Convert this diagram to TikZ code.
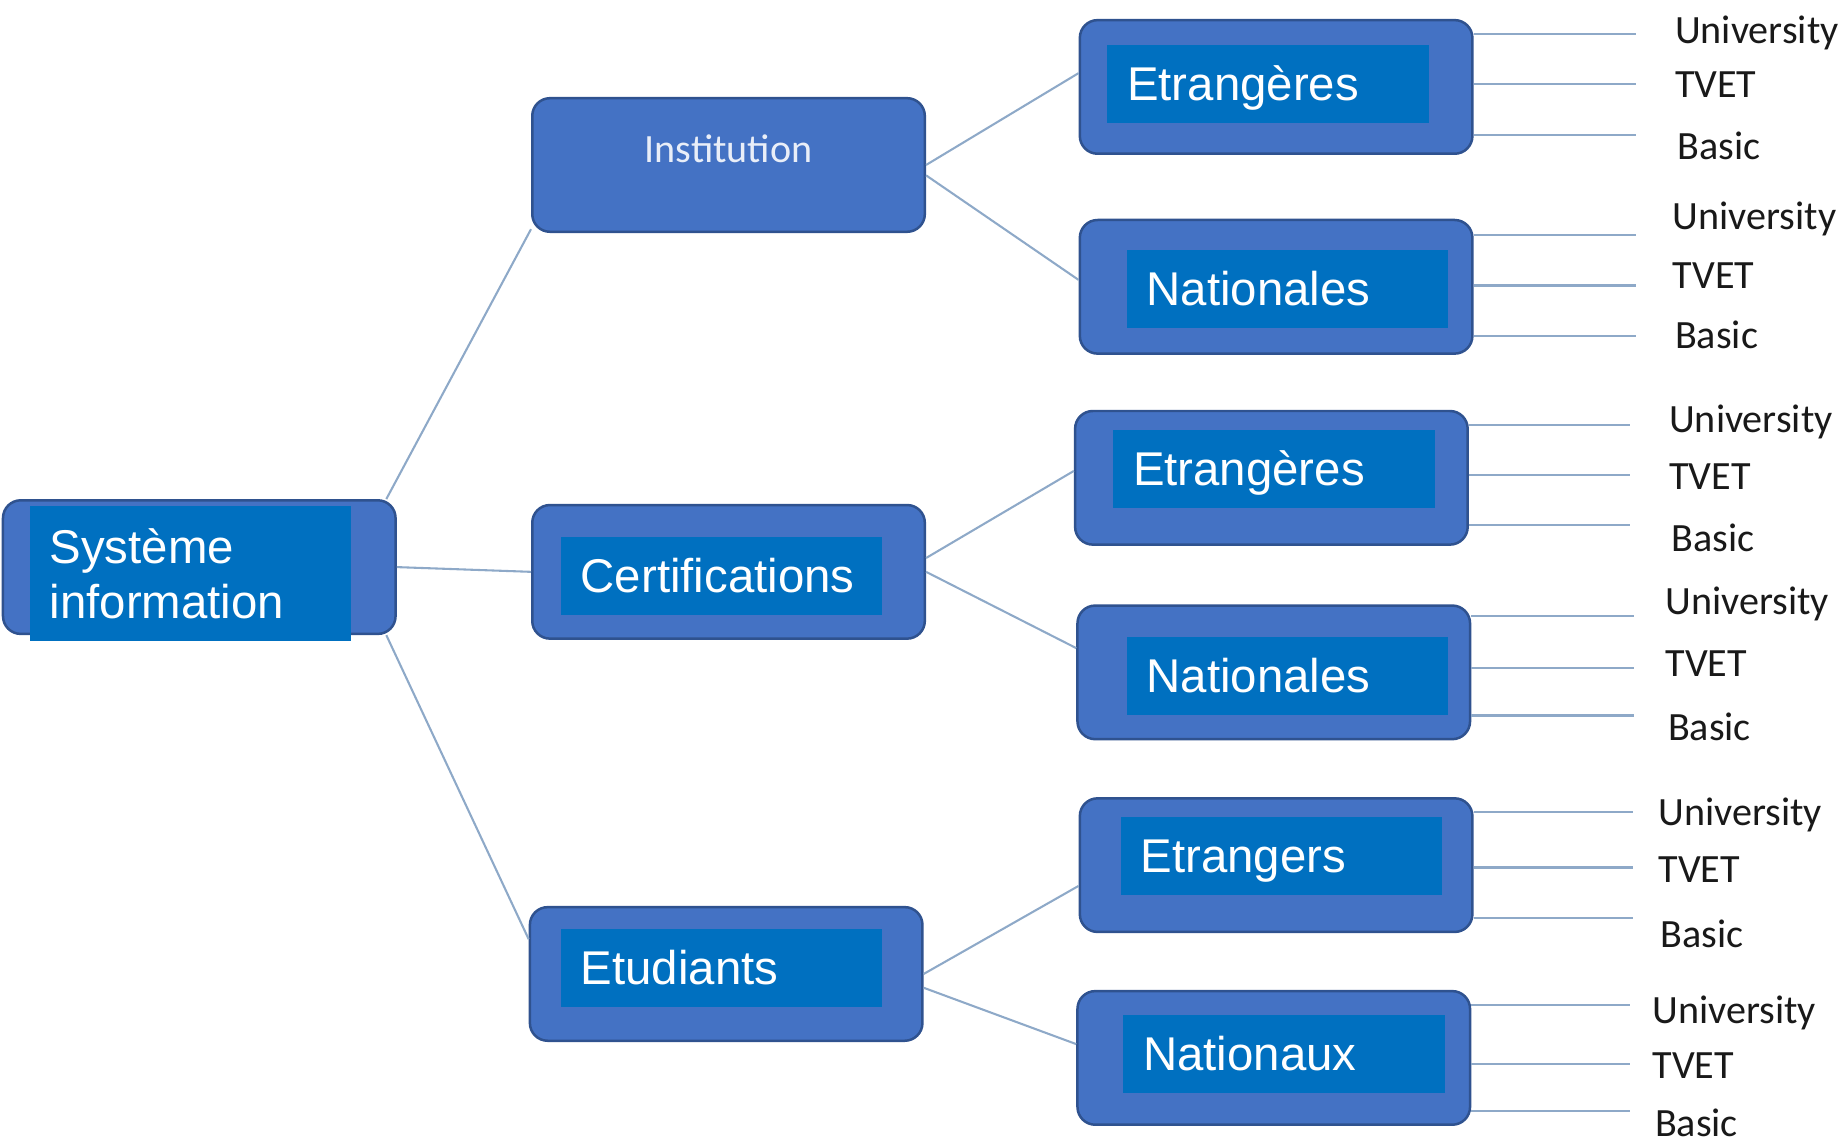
\documentclass[tikz,border=0pt]{standalone}
\usepackage{fontspec}
\setmainfont{Liberation Sans}
\newfontfamily\calibfont{Carlito}
\usepackage{tikz}

\definecolor{boxblue}{HTML}{4472C4}
\definecolor{boxedge}{HTML}{2F528F}
\definecolor{innerblue}{HTML}{0070C0}
\definecolor{linkblue}{HTML}{8EA9C8}

\begin{document}
\begin{tikzpicture}[x=0.02cm, y=-0.02cm,
    outerbox/.style={draw=boxedge, fill=boxblue, line width=1.2pt, rounded corners=0.3cm,
        minimum width=6.64cm, minimum height=2.26cm, inner sep=0pt},
    innerbox/.style={fill=innerblue, text=white, minimum width=5.44cm, minimum height=1.32cm,
        inner sep=0pt, inner xsep=0.34cm, text width=4.76cm, align=left,
        font=\fontsize{22.8pt}{26.6pt}\selectfont, text height=16.3pt, text depth=0pt},
    rootbox/.style={fill=innerblue, text=white, minimum width=5.44cm, minimum height=2.28cm,
        inner sep=0pt, inner xsep=0.34cm, text width=4.76cm, align=left,
        font=\fontsize{22.8pt}{26.6pt}\selectfont},
    link/.style={draw=linkblue, line width=1pt},
    lbl/.style={anchor=west, inner sep=0pt, text=black!90,
        font=\calibfont\fontsize{19.3pt}{23pt}\selectfont, text height=12.4pt, text depth=0pt}]
    \useasboundingbox (0,0) rectangle (1560,970);

    % root
    \node[outerbox] (root) at (168.5,479.5) {};
    \node[rootbox] (roottext) at (161,485) {Syst\`eme\\information};

    % second level
    \node[outerbox] (inst) at (616,139.5) {};
    \node[inner sep=0pt, text=white!88!boxblue, text height=12.4pt, text depth=0pt,
        font=\calibfont\fontsize{19.3pt}{23pt}\selectfont] (insttext) at (616,126.3) {Institution};
    \node[outerbox] (cert) at (616,483.5) {};
    \node[innerbox] (certtext) at (610,487) {Certifications};
    \node[outerbox] (etud) at (614,823.5) {};
    \node[innerbox] (etudtext) at (610,818.5) {Etudiants};

    % third level
    \node[outerbox] (etra) at (1079,73.5) {};
    \node[innerbox] (etratext) at (1072,71) {Etrang\`eres};
    \node[outerbox] (nata) at (1079,242.5) {};
    \node[innerbox] (natatext) at (1088.5,244) {Nationales};
    \node[outerbox] (etrb) at (1075,404) {};
    \node[innerbox] (etrbtext) at (1077,396.4) {Etrang\`eres};
    \node[outerbox] (natb) at (1077,568.5) {};
    \node[innerbox] (natbtext) at (1088.5,571.2) {Nationales};
    \node[outerbox] (etrc) at (1079,731.5) {};
    \node[innerbox] (etrctext) at (1083.5,723.6) {Etrangers};
    \node[outerbox] (natc) at (1077,894.5) {};
    \node[innerbox] (natctext) at (1085.5,891) {Nationaux};

    \draw[link] (root.20) -- (inst.198);
    \draw[link] (root.east) -- (cert.west);
    \draw[link] (root.-20) -- (etud.170);
    \draw[link] (inst.east) -- (etra.176);
    \draw[link] (inst.-3) -- (nata.178);
    \draw[link] (cert.4) -- (etrb.178);
    \draw[link] (cert.east) -- (natb.173);
    \draw[link] (etud.east) -- (etrc.186);
    \draw[link] (etud.-4) -- (natc.176);

    % leaves
    \foreach \b/\xe/\ya/\yb/\yc/\xl/\la/\lb/\lc in {
        etra/1383/29/71/114/1416/26.3/71.9/123.8,
        nata/1383/198.6/241.4/283.8/1414/182.9/232.7/283.9,
        etrb/1378/359/401.5/444/1411/354.7/403/455,
        natb/1382/520.5/564.6/605/1408/508.4/561/615,
        etrc/1381/686.5/733.5/776/1402/687/735.6/790,
        natc/1378/850/900/939.5/1397/854.4/901/950}
    {
        \coordinate (\b-u) at (\xe,\ya);
        \coordinate (\b-t) at (\xe,\yb);
        \coordinate (\b-b) at (\xe,\yc);
        \draw[link] (\b.east |- \b-u) -- (\b-u);
        \draw[link] (\b.east |- \b-t) -- (\b-t);
        \draw[link] (\b.east |- \b-b) -- (\b-b);
        \node[lbl] (\b-ul) at (\xl,\la) {University};
        \node[lbl] (\b-tl) at (\xl,\lb) {TVET};
        \node[lbl] (\b-bl) at (\xl+2,\lc) {Basic};
    }
\end{tikzpicture}
\end{document}
